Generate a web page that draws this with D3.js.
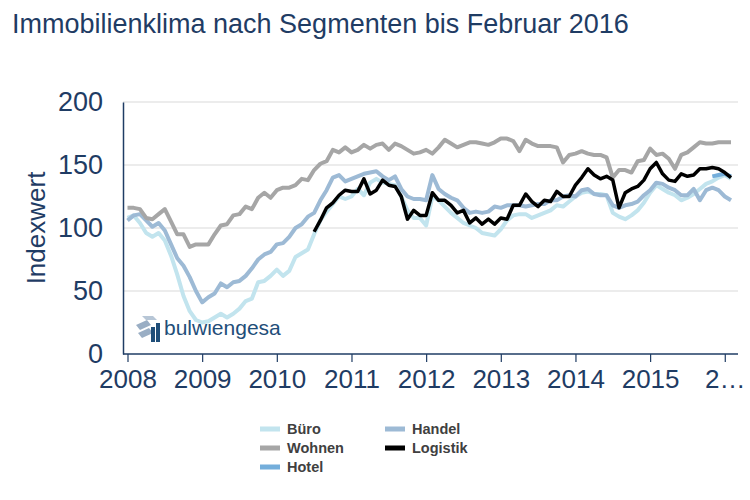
<!DOCTYPE html>
<html><head><meta charset="utf-8">
<script src="https://cdn.jsdelivr.net/npm/d3@7"></script>
<style>
body{margin:0;background:#fff;}
svg{display:block;}
</style></head>
<body>
<svg id="chart" width="750" height="500"></svg>
<script>
// ---- data (monthly, Jan 2008 .. Feb 2016) ----
const startYear = 2008;
const yearLabels = ["2008","2009","2010","2011","2012","2013","2014","2015","2…"];
const yTicks = [0,50,100,150,200];
const seriesNames = ["Büro","Wohnen","Hotel","Handel","Logistik"];

const bueroValues = [108,110,104,96,93,96,90,78,63,46,34,27,25,26,29,32,29,32,36,42,44,57,58,62,67,62,66,77,80,83,95,106,113,119,125,123,125,131,126,136,139,136,135,134,125,114,108,108,102,125,122,117,112,108,104,102,100,96,95,94,99,106,110,111,111,108,110,112,114,118,117,121,125,128,129,127,127,126,112,109,107,110,114,120,128,134,131,128,126,122,124,127,131,135,137,140,142,139];
const wohnenValues = [116,116,115,108,107,111,115,105,95,95,85,87,87,87,95,102,103,110,111,117,115,124,128,124,130,132,132,134,139,138,146,151,153,162,160,164,160,162,166,163,166,167,162,167,165,162,159,160,162,159,164,170,167,164,166,168,168,167,166,168,171,171,169,161,170,167,165,165,165,164,152,158,159,161,159,158,158,156,140,146,146,144,153,154,163,158,159,155,147,158,160,164,168,167,167,168,168,168];
const hotelValues = [null,null,null,null,null,null,null,null,null,null,null,null,null,null,null,null,null,null,null,null,null,null,null,null,null,null,null,null,null,null,null,null,null,null,null,null,null,null,null,null,null,null,null,null,null,null,null,null,null,null,null,null,null,null,null,null,null,null,null,null,null,null,null,null,null,null,null,null,null,null,null,null,null,null,null,null,null,null,null,null,null,null,null,null,null,null,null,null,null,null,null,null,null,null,141,142,143,141];
const handelValues = [106,110,111,106,101,104,98,87,76,70,61,50,41,45,48,56,53,57,58,62,68,75,79,81,87,88,93,100,103,109,112,122,130,140,142,137,139,141,143,144,145,141,138,141,131,125,123,123,122,142,131,127,124,122,116,112,113,112,113,117,116,118,118,118,117,118,119,119,122,122,125,126,125,130,131,127,126,126,118,116,118,119,121,126,130,136,135,132,130,126,126,131,122,130,132,130,125,122];
const logistikValues = [null,null,null,null,null,null,null,null,null,null,null,null,null,null,null,null,null,null,null,null,null,null,null,null,null,null,null,null,null,null,97,106,116,120,126,130,129,129,139,127,130,138,134,133,125,107,114,110,110,128,122,122,118,112,114,104,108,103,107,103,108,107,118,118,127,121,117,122,121,129,125,125,134,140,147,142,139,141,138,116,128,131,133,138,147,152,143,138,137,143,141,142,147,147,148,147,144,140];

const colors = {"Büro":"#c2e4ee","Wohnen":"#a6a6a6","Hotel":"#74aedb","Handel":"#9dbad5","Logistik":"#000000"};
const valuesByName = {"Büro":bueroValues,"Wohnen":wohnenValues,"Hotel":hotelValues,"Handel":handelValues,"Logistik":logistikValues};

const navy = "#1f3c64";
const svg = d3.select("#chart");

const x = d3.scaleLinear().domain([0, bueroValues.length-1]).range([127.5, 731]);
const y = d3.scaleLinear().domain([0, 200]).range([354, 102]);

// title
svg.append("text").attr("x",12).attr("y",33)
  .attr("font-family","Liberation Sans, Arial, sans-serif").attr("font-size",27)
  .attr("fill",navy)
  .text("Immobilienklima nach Segmenten bis Februar 2016");

// gridlines
svg.append("g").selectAll("line").data(yTicks.filter(d=>d>0)).join("line")
  .attr("x1",123).attr("x2",738).attr("y1",d=>y(d)).attr("y2",d=>y(d))
  .attr("stroke","#d9d9d9").attr("stroke-width",1.2);

// y axis
const yAxis = svg.append("g").attr("transform","translate(123,0)")
  .call(d3.axisLeft(y).tickValues(yTicks).tickSize(0).tickPadding(20));
yAxis.select(".domain").attr("stroke",navy).attr("stroke-width",1.5);
yAxis.selectAll("text").attr("font-family","Liberation Sans Narrow, Liberation Sans, Arial, sans-serif")
  .attr("font-size",27).attr("fill",navy);

// x axis
const xAxis = svg.append("g").attr("transform","translate(0,"+y(0)+")")
  .call(d3.axisBottom(x).tickValues(yearLabels.map((d,i)=>i*12)).tickFormat((d,i)=>yearLabels[i]).tickSize(8).tickSizeOuter(0).tickPadding(8));
xAxis.select(".domain").attr("stroke",navy).attr("stroke-width",1.5).attr("d","M123,0H738");
xAxis.selectAll(".tick line").attr("stroke",navy).attr("stroke-width",1.2);
xAxis.selectAll("text").attr("font-family","Liberation Sans, Arial, sans-serif")
  .attr("font-size",26).attr("fill",navy);

// y label
svg.append("text").attr("transform","translate(45,228) rotate(-90)")
  .attr("text-anchor","middle").attr("font-family","Liberation Sans, Arial, sans-serif")
  .attr("font-size",26).attr("fill",navy).text("Indexwert");

// logo
const logo = svg.append("g").attr("transform","translate(136,316)");
logo.append("path").attr("d","M0,9 L11,4 L15,9 L4,14 Z").attr("fill","#9aaec4");
logo.append("path").attr("d","M2,17 L13,12 L17,17 L6,22 Z").attr("fill","#9aaec4");
logo.append("path").attr("d","M6,0 L17,0 L21,4 L10,4 Z").attr("fill","#b7c6d6");
logo.append("rect").attr("x",15).attr("y",11).attr("width",4).attr("height",15).attr("fill","#1f4e79");
logo.append("rect").attr("x",20).attr("y",7).attr("width",4).attr("height",19).attr("fill","#1f4e79");
logo.append("text").attr("x",28).attr("y",19).attr("font-family","Liberation Sans, Arial, sans-serif")
  .attr("font-size",21).attr("fill","#1f4e79").text("bulwiengesa");

// lines
const line = d3.line().defined(d=>d!=null).x((d,i)=>x(i)).y(d=>y(d));
const drawOrder = ["Büro","Handel","Wohnen","Hotel","Logistik"];
svg.append("g").selectAll("path").data(drawOrder).join("path")
  .attr("d",n=>line(valuesByName[n]))
  .attr("fill","none").attr("stroke",n=>colors[n])
  .attr("stroke-width",n=>n==="Logistik"?3.5:4).attr("stroke-linejoin","round");

// legend
const legendPos = {"Büro":[260,429],"Wohnen":[260,448],"Hotel":[260,467],"Handel":[385,429],"Logistik":[385,448]};
const lg = svg.append("g").selectAll("g").data(seriesNames).join("g")
  .attr("transform",n=>"translate("+legendPos[n][0]+","+legendPos[n][1]+")");
lg.append("rect").attr("x",0).attr("y",-2.5).attr("width",20).attr("height",5).attr("fill",n=>colors[n]);
lg.append("text").attr("x",27).attr("y",5).attr("font-family","Liberation Sans, Arial, sans-serif")
  .attr("font-weight","bold").attr("font-size",14.5).attr("fill","#404040").text(n=>n);
</script>
</body></html>
